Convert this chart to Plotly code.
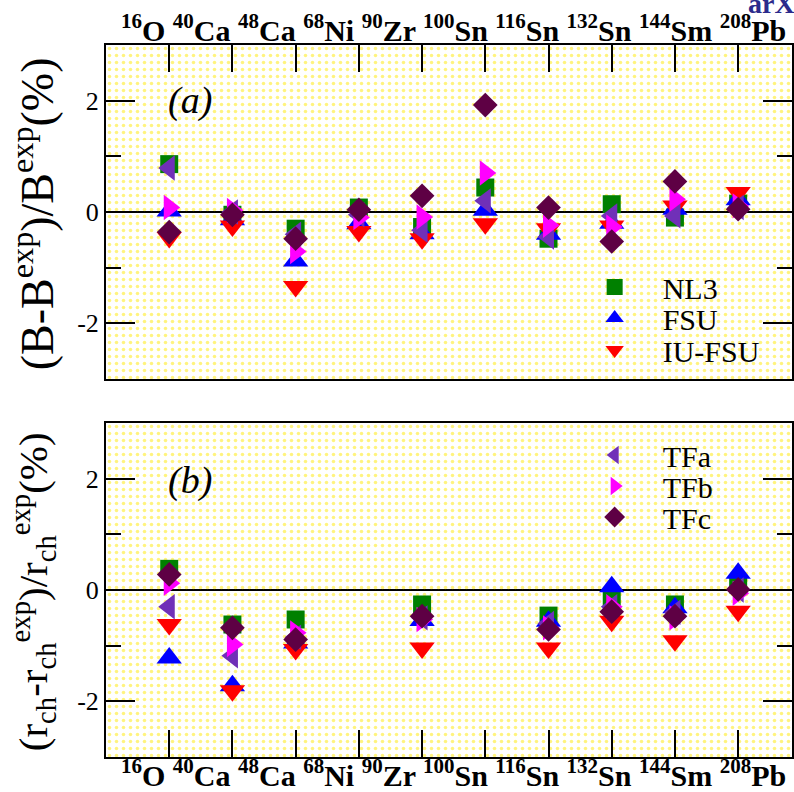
import plotly.graph_objects as go

# Nuclei along the horizontal axis
NUCLEI = ["<sup>16</sup>O", "<sup>40</sup>Ca", "<sup>48</sup>Ca", "<sup>68</sup>Ni", "<sup>90</sup>Zr",
          "<sup>100</sup>Sn", "<sup>116</sup>Sn", "<sup>132</sup>Sn", "<sup>144</sup>Sm", "<sup>208</sup>Pb"]

# Relative deviation of binding energies (%)
B_NL3 = [0.86, -0.05, -0.30, 0.08, -0.27, 0.44, -0.48, 0.14, -0.10, 0.15]
B_FSU = [0.02, -0.14, -0.88, -0.21, -0.39, 0.03, -0.40, -0.20, 0.05, 0.22]
B_IUFSU = [-0.46, -0.25, -1.34, -0.35, -0.48, -0.21, -0.30, -0.25, 0.11, 0.35]
B_TFA = [0.79, 0.00, -0.40, -0.05, -0.33, 0.20, -0.45, -0.07, -0.07, 0.08]
B_TFB = [0.08, 0.03, -0.71, -0.10, -0.09, 0.70, -0.24, -0.27, 0.23, 0.11]
B_TFC = [-0.36, -0.05, -0.48, 0.04, 0.29, 1.92, 0.08, -0.53, 0.55, 0.05]

# Relative deviation of charge radii (%); no data for 68Ni and 100Sn
R_NL3 = [0.38, -0.62, -0.53, None, -0.26, None, -0.46, -0.15, -0.26, 0.10]
R_FSU = [-1.22, -1.72, -0.95, None, -0.55, None, -0.56, 0.06, -0.32, 0.30]
R_IUFSU = [-0.62, -1.81, -1.07, None, -1.04, None, -1.04, -0.56, -0.91, -0.38]
R_TFA = [-0.30, -1.18, -0.85, None, -0.50, None, -0.60, -0.30, -0.40, 0.00]
R_TFB = [0.12, -0.98, -0.77, None, -0.53, None, -0.68, -0.30, -0.50, -0.06]
R_TFC = [0.28, -0.68, -0.89, None, -0.47, None, -0.71, -0.39, -0.47, 0.01]

MODELS = ["NL3", "FSU", "IU-FSU", "TFa", "TFb", "TFc"]
B_VALUES = [B_NL3, B_FSU, B_IUFSU, B_TFA, B_TFB, B_TFC]
R_VALUES = [R_NL3, R_FSU, R_IUFSU, R_TFA, R_TFB, R_TFC]

Y_TICKS = [-2, 0, 2]
Y_MINOR = [-1, 1]

# ---- styling ----
SERIF = "Liberation Serif"
STYLE = {
    "NL3": dict(symbol="square", color="#008000", size=18),
    "FSU": dict(symbol="triangle-up", color="#0000ff", size=22),
    "IU-FSU": dict(symbol="triangle-down", color="#ff0000", size=22),
    "TFa": dict(symbol="triangle-left", color="#7030b8", size=22),
    "TFb": dict(symbol="triangle-right", color="#ff00ff", size=22),
    "TFc": dict(symbol="diamond", color="#5e0044", size=19),
}

W, H = 794, 792
ML, MR, MT, MB = 106, 0, 45, 35
PLOT_W, PLOT_H = W - ML - MR, H - MT - MB
X_RANGE = [-1, -1 + PLOT_W / 63.4]
Y_RANGE = [-3, 3]
DOM_A = [0.5309, 1.0]
DOM_B = [0.0, 0.4691]


def px_x(x):
    return (x - ML) / PLOT_W


def px_y(y):
    return (H - MB - y) / PLOT_H


# each model gets its own legend box; (panel, row centre in px)
LEGEND_ROWS = {"NL3": 287, "FSU": 318, "IU-FSU": 350, "TFa": 455, "TFb": 486, "TFc": 517}
LEGEND_PANEL = {"NL3": "a", "FSU": "a", "IU-FSU": "a", "TFa": "b", "TFb": "b", "TFc": "b"}

x_pos = list(range(len(NUCLEI)))

fig = go.Figure()

# dotted yellow paper behind each panel
for xa, ya in (("x", "y"), ("x2", "y2")):
    fig.add_trace(go.Scatter(
        x=[X_RANGE[0], X_RANGE[1], X_RANGE[1], X_RANGE[0], X_RANGE[0]],
        y=[Y_RANGE[0], Y_RANGE[0], Y_RANGE[1], Y_RANGE[1], Y_RANGE[0]],
        mode="none", fill="toself", fillcolor="rgba(0,0,0,0)",
        fillpattern=dict(shape=".", fgcolor="#ffe800", bgcolor="rgba(0,0,0,0)",
                         size=7, solidity=0.2),
        hoverinfo="skip", showlegend=False, xaxis=xa, yaxis=ya))

legend_layout = {}
for i, (name, bv, rv) in enumerate(zip(MODELS, B_VALUES, R_VALUES)):
    st = STYLE[name]
    marker = dict(symbol=st["symbol"], color=st["color"], size=st["size"], line=dict(width=0))
    leg = "legend" if i == 0 else f"legend{i + 1}"
    legend_layout[leg] = dict(
        x=px_x(568), y=px_y(LEGEND_ROWS[name]), xanchor="left", yanchor="middle",
        bgcolor="rgba(0,0,0,0)", borderwidth=0, itemwidth=86,
        font=dict(family=SERIF, size=30, color="black"))
    in_a = LEGEND_PANEL[name] == "a"
    fig.add_trace(go.Scatter(x=x_pos, y=bv, mode="markers", name=name, marker=marker,
                             legendgroup=name, showlegend=in_a, legend=leg,
                             xaxis="x", yaxis="y"))
    fig.add_trace(go.Scatter(x=x_pos, y=rv, mode="markers", name=name, marker=marker,
                             legendgroup=name, showlegend=not in_a, legend=leg,
                             xaxis="x2", yaxis="y2"))

xcommon = dict(range=X_RANGE, tickvals=x_pos, showticklabels=False, ticks="inside",
               ticklen=27, tickwidth=2, tickcolor="black", showline=True, mirror=True,
               linecolor="black", linewidth=2, showgrid=False, zeroline=False)
ycommon = dict(range=Y_RANGE, tickvals=Y_TICKS, ticktext=[str(v) for v in Y_TICKS],
               ticks="inside", ticklen=29, tickwidth=2, tickcolor="black",
               minor=dict(tickvals=Y_MINOR, ticks="inside", ticklen=15, tickwidth=2,
                          tickcolor="black", showgrid=False),
               showline=True, mirror="ticks", linecolor="black", linewidth=2,
               showgrid=False, zeroline=True, zerolinecolor="black", zerolinewidth=2,
               tickfont=dict(family=SERIF, size=26, color="black"))

label_row = "<b>" + " ".join(NUCLEI) + "</b>"
nuc_font = dict(family=SERIF, size=30, color="black")


def note(text, x, y, size, angle=0, **kw):
    return dict(text=text, xref="paper", yref="paper", x=px_x(x), y=px_y(y),
                xanchor="center", yanchor="middle", textangle=angle, showarrow=False,
                font=dict(family=SERIF, size=size, color=kw.pop("color", "black")), **kw)


fig.update_layout(
    width=W, height=H, margin=dict(l=ML, r=MR, t=MT, b=MB),
    paper_bgcolor="white", plot_bgcolor="white",
    xaxis=dict(domain=[0, 1], anchor="y", side="top", **xcommon),
    yaxis=dict(domain=DOM_A, anchor="x", **ycommon),
    xaxis2=dict(domain=[0, 1], anchor="y2", side="bottom", **xcommon),
    yaxis2=dict(domain=DOM_B, anchor="x2", **ycommon),
    showlegend=True,
    annotations=[
        dict(text=label_row, xref="paper", yref="paper", x=px_x(455), y=1.0, xanchor="center",
             yanchor="bottom", yshift=-4, showarrow=False, font=nuc_font),
        dict(text=label_row, xref="paper", yref="paper", x=px_x(455), y=0.0, xanchor="center",
             yanchor="top", yshift=5, showarrow=False, font=nuc_font),
        note("<i>(a)</i>", 190, 101, 38),
        note("<i>(b)</i>", 190, 480, 38),
        note("(B-B<sup>exp</sup>)/B<sup>exp</sup>(%)", 33, 214, 46, angle=-90),
        note("(r<sub>ch</sub>-r<sub>ch</sub><sup>exp</sup>)/r<sub>ch</sub><sup>exp</sup>(%)",
             33, 592, 41, angle=-90),
        dict(text="<b>arXiv</b>", xref="paper", yref="paper", x=px_x(820), y=px_y(3),
             xanchor="right", yanchor="middle", showarrow=False,
             font=dict(family=SERIF, size=28, color="#2b2b8c")),
    ],
    **legend_layout,
)

fig.write_html("out.html")
